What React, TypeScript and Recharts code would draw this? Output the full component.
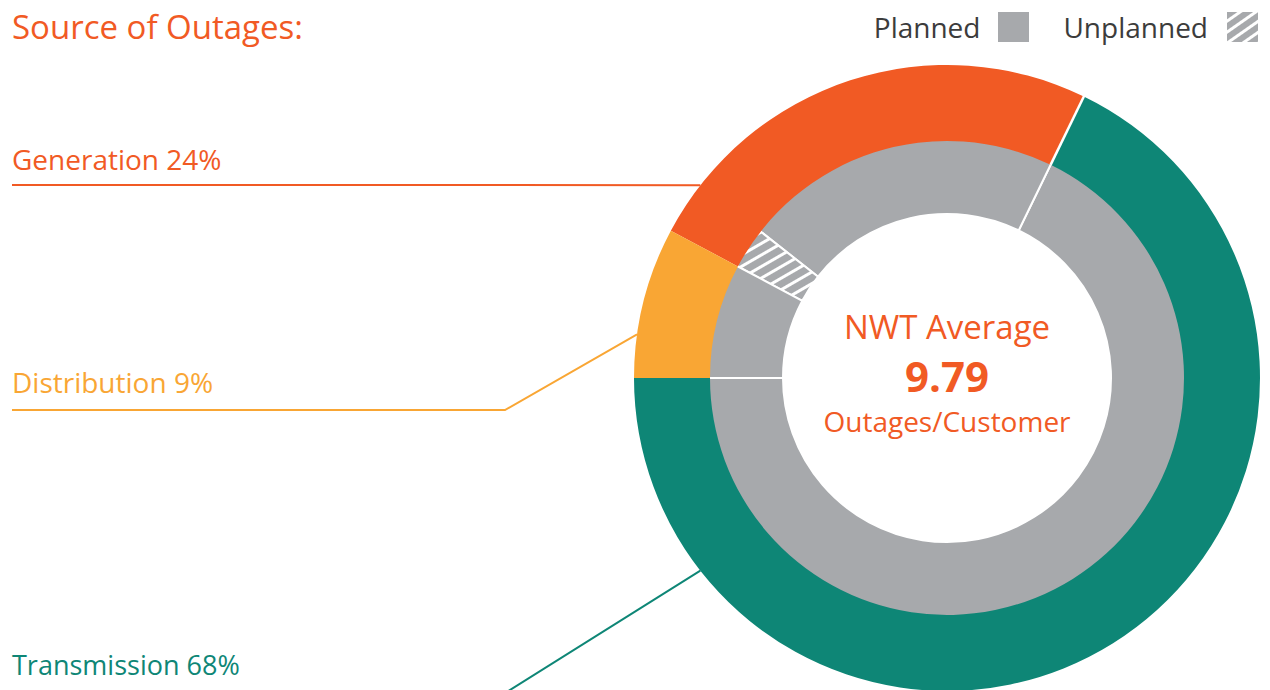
import React from 'react'
import { PieChart, Pie, Cell } from 'recharts'

// outer ring: source of outages
const sources = ['Transmission', 'Generation', 'Distribution']
const sourcePct = [68, 24, 9] // printed percentages
const sourceShare = [67.8, 24.4, 7.8] // slice sizes as drawn
const sourceColors = ['#0e8676', '#f15a24', '#f9a634']

// inner ring: planned / unplanned split of each source
const planned = [67.8, 21.6, 7.8]
const unplanned = [0, 2.8, 0]

const average = 9.79

const GRAY = '#a7a9ac'
const FONT = '"Open Sans", "Noto Sans", sans-serif'
const CX = 947
const CY = 378

// where each source's label sits: text baseline, underline y, elbow x, anchor angle on ring
const labelLayout = [
  { textY: 675, lineY: 700, elbowX: 494, angle: 218, size: 27 },
  { textY: 170, lineY: 185, elbowX: 495, angle: 142, size: 28 },
  { textY: 393, lineY: 410, elbowX: 505, angle: 172, size: 28 },
]

const outerData = sources.map((name, i) => ({ name, value: sourceShare[i], pct: sourcePct[i] }))

const innerData: { name: string; value: number; kind: string }[] = []
sources.forEach((name, i) => {
  if (planned[i] > 0) innerData.push({ name: name + ' planned', value: planned[i], kind: 'planned' })
  if (unplanned[i] > 0) innerData.push({ name: name + ' unplanned', value: unplanned[i], kind: 'unplanned' })
})

const RAD = Math.PI / 180

const renderSourceLabel = (props: any) => {
  const { cx, cy, outerRadius, innerRadius, index, endAngle } = props
  const l = labelLayout[index]
  const color = sourceColors[index]
  const ax = cx + outerRadius * Math.cos(l.angle * RAD)
  const ay = cy - outerRadius * Math.sin(l.angle * RAD)
  // white gap between transmission and generation in the outer ring
  const sep = index === 0 ? (
    <line
      x1={cx + innerRadius * Math.cos(endAngle * RAD)}
      y1={cy - innerRadius * Math.sin(endAngle * RAD)}
      x2={cx + (outerRadius + 2) * Math.cos(endAngle * RAD)}
      y2={cy - (outerRadius + 2) * Math.sin(endAngle * RAD)}
      stroke="#fff"
      strokeWidth={2.5}
    />
  ) : null
  return (
    <g key={'lbl' + index}>
      {sep}
      <polyline
        points={`12,${l.lineY} ${l.elbowX},${l.lineY} ${ax},${ay}`}
        fill="none"
        stroke={color}
        strokeWidth={2}
      />
      <text x={12} y={l.textY} fill={color} fontSize={l.size} fontFamily={FONT}>
        {sources[index]} {sourcePct[index]}%
      </text>
    </g>
  )
}

// center text is drawn with the inner ring's first label
const renderCenter = (props: any) => {
  if (props.index !== 0) return null
  const { cx, cy } = props
  return (
    <g key="center" fontFamily={FONT} fill="#f15a24" textAnchor="middle">
      <text x={cx} y={cy - 39} fontSize={33}>NWT Average</text>
      <text x={cx} y={cy + 14} fontSize={42} fontWeight="bold">{average.toFixed(2)}</text>
      <text x={cx} y={cy + 54} fontSize={28}>Outages/Customer</text>
    </g>
  )
}

const App = () => {
  return (
    <div style={{ position: 'absolute', left: 0, top: 0, width: 1270, height: 690, background: '#fff', overflow: 'hidden' }}>
      <svg width={0} height={0} style={{ position: 'absolute' }}>
        <defs>
          <pattern id="hatch" patternUnits="userSpaceOnUse" width={10} height={10} patternTransform="rotate(-30)">
            <rect width={10} height={10} fill={GRAY} />
            <rect width={10} height={3} fill="#fff" />
          </pattern>
          <pattern id="hatchLegend" patternUnits="userSpaceOnUse" width={9} height={9} patternTransform="rotate(-35)">
            <rect width={9} height={9} fill="#fff" />
            <rect width={9} height={6} fill={GRAY} />
          </pattern>
        </defs>
      </svg>

      <div style={{ position: 'absolute', left: 12, top: 4, fontFamily: FONT, fontSize: 33, color: '#f15a24', lineHeight: '45px' }}>
        Source of Outages:
      </div>

      <div style={{ position: 'absolute', right: 12, top: 8, display: 'flex', alignItems: 'center', fontFamily: FONT, fontSize: 28, color: '#3c3c3c', lineHeight: '38px' }}>
        <span>Planned</span>
        <span style={{ display: 'inline-block', width: 31, height: 30, background: GRAY, marginLeft: 18, marginRight: 34 }} />
        <span>Unplanned</span>
        <svg width={31} height={30} style={{ marginLeft: 19 }}>
          <rect width={31} height={30} fill="url(#hatchLegend)" />
        </svg>
      </div>

      <div style={{ position: 'absolute', left: 0, top: 0 }}>
        <PieChart width={1270} height={690} margin={{ top: 0, right: 0, bottom: 0, left: 0 }}>
          <Pie
            data={innerData}
            dataKey="value"
            cx={CX}
            cy={CY}
            innerRadius={164}
            outerRadius={239}
            startAngle={180}
            endAngle={540}
            stroke="#fff"
            strokeWidth={2}
            label={renderCenter}
            labelLine={false}
            isAnimationActive={false}
          >
            {innerData.map((d) => (
              <Cell key={d.name} fill={d.kind === 'planned' ? GRAY : 'url(#hatch)'} />
            ))}
          </Pie>
          <Pie
            data={outerData}
            dataKey="value"
            cx={CX}
            cy={CY}
            innerRadius={237}
            outerRadius={313}
            startAngle={180}
            endAngle={540}
            stroke="none"
            label={renderSourceLabel}
            labelLine={false}
            isAnimationActive={false}
          >
            {outerData.map((d, i) => (
              <Cell key={d.name} fill={sourceColors[i]} />
            ))}
          </Pie>
        </PieChart>
      </div>
    </div>
  )
}

export default App
